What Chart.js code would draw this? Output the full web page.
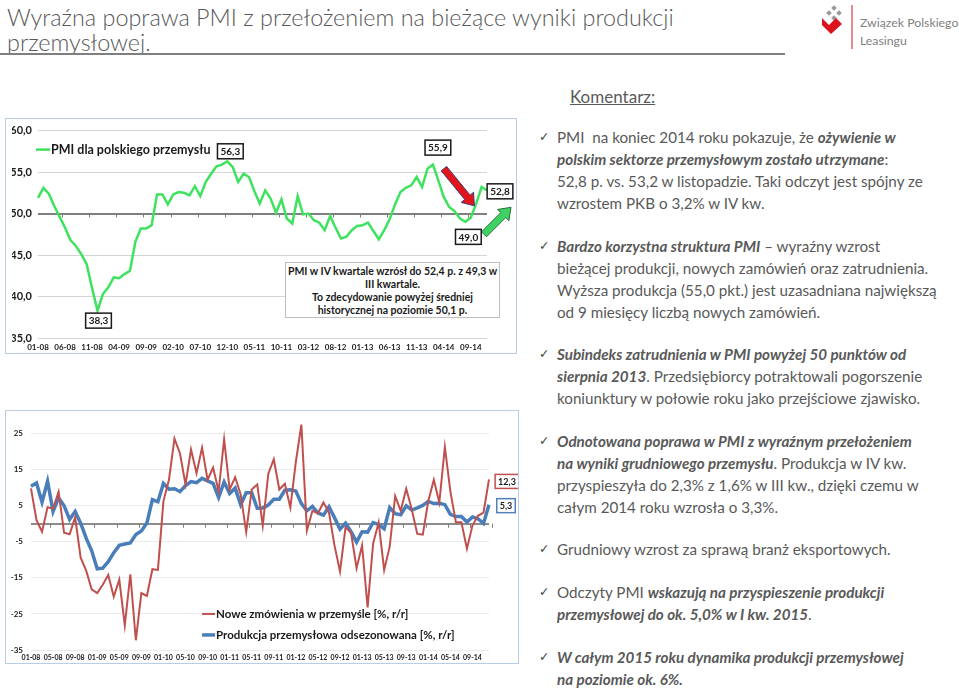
<!DOCTYPE html>
<html>
<head>
<meta charset="utf-8">
<script src="https://cdn.jsdelivr.net/npm/chart.js@4.4.1/dist/chart.umd.min.js"></script>
<style>
  body { margin:0; width:959px; height:689px; position:relative; overflow:hidden; background:#fff; font-family:Lato, "Open Sans", sans-serif; color:#595959; }
  .abs { position:absolute; white-space:nowrap; }
  .title { left:7px; font-size:23.4px; font-weight:300; color:#595959; }
  .rule { left:0; top:53px; width:785px; height:2px; background:#7f7f7f; }
  .frame { border:1.5px solid #b9cde5; box-sizing:border-box; }
  .note { left:285px; top:262px; width:215px; height:56px; border:1px solid #bfbfbf; background:#fff; box-sizing:border-box;
          font-size:10.5px; font-weight:700; color:#1a1a1a; text-align:center; line-height:13px; padding-top:2px; }
  .bullet { left:557px; font-size:15.2px; line-height:22px; color:#595959; }
  .bullet b { font-style:italic; font-weight:700; }
  .chk { position:absolute; left:-18px; top:0; font-family:"DejaVu Sans"; font-size:12.5px; color:#404040; }
</style>
</head>
<body>

<div class="abs title" style="top:3px">Wyraźna poprawa PMI z przełożeniem na bieżące wyniki produkcji</div>
<div class="abs title" style="top:28px">przemysłowej.</div>
<div class="abs rule"></div>

<svg class="abs" style="left:818px;top:4px" width="40" height="46" viewBox="0 0 40 46">
  <g fill="#9a9a9a">
    <rect x="14" y="2" width="4" height="4" transform="rotate(45 16 4)"/>
    <rect x="19" y="7" width="4" height="4" transform="rotate(45 21 9)"/>
    <rect x="9" y="7" width="4" height="4" transform="rotate(45 11 9)"/>
    <rect x="14" y="12" width="4" height="4" transform="rotate(45 16 14)"/>
  </g>
  <path d="M4 14 L11 21 L18 14 L24 20 L13 30 L4 21 Z" fill="#d9141e"/>
  <line x1="34" y1="1" x2="34" y2="45" stroke="#d9141e" stroke-width="1"/>
</svg>
<div class="abs" style="left:860px;top:14px;font-size:12.3px;color:#7f7f7f;line-height:18px">Związek Polskiego<br>Leasingu</div>

<div class="abs" style="left:570px;top:86px;font-size:17px;color:#595959;text-decoration:underline">Komentarz:</div>

<div class="abs frame" style="left:5px;top:118px;width:512px;height:236px"></div>
<canvas id="pmiChart" class="abs" style="left:6px;top:118px" width="512" height="236"></canvas>
<div class="abs note">PMI w IV kwartale wzrósł do 52,4 p. z 49,3 w<br>III kwartale.<br>To zdecydowanie powyżej średniej<br>historycznej na poziomie 50,1 p.</div>

<div class="abs frame" style="left:5px;top:410px;width:514px;height:254px"></div>
<canvas id="prodChart" class="abs" style="left:6px;top:410px" width="512" height="254"></canvas>

<div class="abs bullet" style="top:126px"><span class="chk">✓</span>PMI&nbsp; na koniec 2014 roku pokazuje, że <b>ożywienie w</b><br><b>polskim sektorze przemysłowym zostało utrzymane</b>:<br>52,8 p. vs. 53,2 w listopadzie. Taki odczyt jest spójny ze<br>wzrostem PKB o 3,2% w IV kw.</div>
<div class="abs bullet" style="top:235px"><span class="chk">✓</span><b>Bardzo korzystna struktura PMI</b> – wyraźny wzrost<br>bieżącej produkcji, nowych zamówień oraz zatrudnienia.<br>Wyższa produkcja (55,0 pkt.) jest uzasadniana największą<br>od 9 miesięcy liczbą nowych zamówień.</div>
<div class="abs bullet" style="top:343px"><span class="chk">✓</span><b>Subindeks zatrudnienia w PMI powyżej 50 punktów od</b><br><b>sierpnia 2013</b>. Przedsiębiorcy potraktowali pogorszenie<br>koniunktury w połowie roku jako przejściowe zjawisko.</div>
<div class="abs bullet" style="top:430px"><span class="chk">✓</span><b>Odnotowana poprawa w PMI z wyraźnym przełożeniem</b><br><b>na wyniki grudniowego przemysłu</b>. Produkcja w IV kw.<br>przyspieszyła do 2,3% z 1,6% w III kw., dzięki czemu w<br>całym 2014 roku wzrosła o 3,3%.</div>
<div class="abs bullet" style="top:538px"><span class="chk">✓</span>Grudniowy wzrost za sprawą branż eksportowych.</div>
<div class="abs bullet" style="top:581px"><span class="chk">✓</span>Odczyty PMI <b>wskazują na przyspieszenie produkcji</b><br><b>przemysłowej do ok. 5,0% w I kw. 2015</b>.</div>
<div class="abs bullet" style="top:646px"><span class="chk">✓</span><b>W całym 2015 roku dynamika produkcji przemysłowej</b><br><b>na poziomie ok. 6%.</b></div>

<script>
// months 01-08 .. 12-14
const years = ['08', '09', '10', '11', '12', '13', '14'];
const monthNums = ['01', '02', '03', '04', '05', '06', '07', '08', '09', '10', '11', '12'];
const months = [];
for (const y of years) {
    for (const m of monthNums) months.push(m + '-' + y);
}

const pmiLabel = 'PMI dla polskiego przemysłu';
const pmi = [
    51.9, 53.1, 52.4, 50.9, 49.6, 48.3, 46.8, 46.1, 45.1, 43.9, 41.0, 38.3,
    40.3, 41.1, 42.3, 42.2, 42.7, 43.1, 46.6, 48.2, 48.2, 48.6, 52.3, 52.3,
    51.1, 52.3, 52.6, 52.5, 52.2, 53.3, 52.1, 53.8, 54.8, 55.7, 55.9, 56.3,
    55.6, 53.8, 54.8, 54.4, 52.7, 51.2, 52.8, 51.8, 50.1, 51.7, 49.4, 48.8,
    52.1, 49.9, 50.0, 49.2, 48.9, 48.0, 49.7, 48.3, 47.0, 47.2, 48.0, 48.5,
    48.6, 48.9, 47.9, 46.9, 48.0, 49.3, 51.1, 52.6, 53.1, 53.4, 54.4, 53.2,
    55.4, 55.9, 54.0, 52.0, 50.8, 50.3, 49.4, 49.0, 49.5, 51.2, 53.2, 52.8
];
const pmiTicks = [35, 40, 45, 50, 55, 60];

const ordersLabel = 'Nowe zmówienia w przemyśle [%, r/r]';
const orders = [
    9.8, 1.0, -2.2, 4.6, 4.2, 8.9, -2.5, -2.9, 1.8, -9.4, -13.0, -18.2,
    -19.2, -16.9, -14.2, -20.2, -15.5, -28.2, -14.0, -32.3, -19.2, -20.0, -12.6, -12.8,
    6.3, 12.2, 23.6, 19.5, 10.9, 20.6, 14.0, 21.1, 12.2, 15.6, 9.0, 23.4,
    9.5, 12.9, 8.1, -2.3, 9.5, 10.9, -0.5, 13.8, 17.9, 9.5, 11.1, 4.5,
    17.2, 27.5, -1.9, 3.6, 2.9, 5.9, 3.1, -6.0, -13.2, -1.0, -2.5, -12.3,
    -6.0, -23.2, -5.5, 0.4, -12.8, -6.4, 7.7, 3.6, 9.7, 4.0, -2.8, -3.0,
    6.3, 12.2, 5.9, 21.3, 9.0, 0.4, 0.4, -6.9, -0.5, 2.2, 3.1, 12.3
];

const prodLabel = 'Produkcja przemysłowa odsezonowana [%, r/r]';
const production = [
    10.4, 11.3, 6.0, 11.8, 3.4, 7.2, 5.0, 1.2, 3.4, 0.2, -4.0, -7.5,
    -12.5, -12.3, -10.5, -8.0, -6.0, -5.6, -5.3, -3.0, -2.0, 0.2, 6.7, 6.1,
    11.2, 9.6, 9.7, 8.9, 10.6, 11.7, 11.4, 12.6, 11.9, 11.2, 7.3, 11.6,
    8.4, 9.9, 5.3, 8.6, 8.6, 4.3, 4.4, 5.2, 6.8, 6.8, 9.3, 9.4,
    9.1, 5.6, 3.6, 4.8, 3.0, 2.4, 4.7, 1.7, -1.5, 0.2, -2.2, -5.1,
    -2.2, -2.3, 0.3, -0.2, -1.4, 4.5, 2.8, 2.5, 5.0, 3.8, 4.4, 5.1,
    6.2, 5.6, 5.7, 5.3, 2.6, 2.0, 2.0, 0.5, 1.9, 1.4, 0.1, 5.3
];
// 0 is kept only for the axis line, it gets no label
const prodTicks = [-35, -25, -15, -5, 0, 5, 15, 25];

// months that get a value box in each chart
const pmiCallouts = [11, 35, 73, 79, 83];
const prodCallouts = [83];

const fmt = v => v.toFixed(1).replace('.', ',');
const tickFont = size => ({family: 'Lato', weight: 'bold', size: size});

function valueBox(ctx, text, cx, cy, border, size) {
    ctx.font = 'bold ' + size + 'px Lato';
    const w = ctx.measureText(text).width + 6;
    const h = size + 5;
    ctx.fillStyle = '#fff';
    ctx.fillRect(cx - w / 2, cy - h / 2, w, h);
    ctx.strokeStyle = border;
    ctx.lineWidth = 1.5;
    ctx.strokeRect(cx - w / 2, cy - h / 2, w, h);
    ctx.fillStyle = '#1a1a1a';
    ctx.textAlign = 'center';
    ctx.textBaseline = 'middle';
    ctx.fillText(text, cx, cy + 0.5);
}

function arrow(ctx, x1, y1, x2, y2, fill, stroke) {
    const dx = x2 - x1, dy = y2 - y1;
    const len = Math.hypot(dx, dy);
    const ux = dx / len, uy = dy / len, px = -uy, py = ux;
    const shaft = 3.5, head = 8, headLen = 11;
    const nx = x2 - ux * headLen, ny = y2 - uy * headLen;
    ctx.beginPath();
    ctx.moveTo(x1 + px * shaft, y1 + py * shaft);
    ctx.lineTo(nx + px * shaft, ny + py * shaft);
    ctx.lineTo(nx + px * head, ny + py * head);
    ctx.lineTo(x2, y2);
    ctx.lineTo(nx - px * head, ny - py * head);
    ctx.lineTo(nx - px * shaft, ny - py * shaft);
    ctx.lineTo(x1 - px * shaft, y1 - py * shaft);
    ctx.closePath();
    ctx.fillStyle = fill;
    ctx.fill();
    ctx.strokeStyle = stroke;
    ctx.lineWidth = 1;
    ctx.stroke();
}

// little tick marks hanging from the axis line, between categories
function axisTicks(chart, value, every) {
    const ctx = chart.ctx, xs = chart.scales.x, ys = chart.scales.y;
    const y = ys.getPixelForValue(value);
    ctx.strokeStyle = '#7f7f7f';
    ctx.lineWidth = 1;
    ctx.beginPath();
    for (let i = every - 0.5; i < months.length; i += every) {
        const x = Math.round(xs.getPixelForValue(i)) + 0.5;
        ctx.moveTo(x, y);
        ctx.lineTo(x, y + 4);
    }
    ctx.stroke();
}

const pmiDecor = {
    id: 'pmiDecor',
    beforeDatasetsDraw(chart) {
        chart.ctx.save();
        axisTicks(chart, 50, 5);
        chart.ctx.restore();
    },
    afterDatasetsDraw(chart) {
        const ctx = chart.ctx, xs = chart.scales.x, ys = chart.scales.y;
        const pt = i => [xs.getPixelForValue(i), ys.getPixelForValue(pmi[i])];
        const area = chart.chartArea;
        ctx.save();
        // legend
        const ds = chart.data.datasets[0];
        ctx.strokeStyle = ds.borderColor;
        ctx.lineWidth = 2.5;
        ctx.beginPath();
        ctx.moveTo(area.left - 2, area.top + 19);
        ctx.lineTo(area.left + 12, area.top + 19);
        ctx.stroke();
        ctx.fillStyle = '#1a1a1a';
        ctx.font = 'bold 12.5px Lato';
        ctx.textAlign = 'left';
        ctx.textBaseline = 'middle';
        ctx.fillText(ds.label, area.left + 13, area.top + 19);
        // arrows
        const [ax, ay] = pt(73), [bx, by] = pt(79), [cx, cy] = pt(83);
        arrow(ctx, ax + 11, ay + 4, bx + 9, by - 16, '#e4141b', '#3c3c70');
        arrow(ctx, cx - 3, cy + 44, cx + 24, cy + 17, '#3fd263', '#24703a');
        // value boxes
        const offs = {11: [1, 10], 35: [3, -10], 73: [5, -17], 79: [3, 15], 83: [13, 1]};
        for (const i of pmiCallouts) {
            const [x, y] = pt(i);
            valueBox(ctx, fmt(pmi[i]), x + offs[i][0], y + offs[i][1], '#1a1a1a', 10);
        }
        ctx.restore();
    }
};

const prodDecor = {
    id: 'prodDecor',
    beforeDatasetsDraw(chart) {
        chart.ctx.save();
        axisTicks(chart, 0, 4);
        chart.ctx.restore();
    },
    afterDatasetsDraw(chart) {
        const ctx = chart.ctx, xs = chart.scales.x, ys = chart.scales.y;
        ctx.save();
        // legend
        const lx = xs.getPixelForValue(31), ly = ys.getPixelForValue(-25);
        chart.data.datasets.forEach((ds, k) => {
            const y = ly + k * 21;
            ctx.strokeStyle = ds.borderColor;
            ctx.lineWidth = ds.borderWidth;
            ctx.beginPath();
            ctx.moveTo(lx, y);
            ctx.lineTo(lx + 13, y);
            ctx.stroke();
            ctx.fillStyle = '#1a1a1a';
            ctx.font = 'bold 11.5px Lato';
            ctx.textAlign = 'left';
            ctx.textBaseline = 'middle';
            ctx.fillText(ds.label, lx + 14, y);
        });
        for (const i of prodCallouts) {
            const x = xs.getPixelForValue(i);
            valueBox(ctx, fmt(orders[i]), x + 18, ys.getPixelForValue(orders[i]) + 2, '#c0504d', 9);
            valueBox(ctx, fmt(production[i]), x + 17, ys.getPixelForValue(production[i]) + 1, '#4f81bd', 9);
        }
        ctx.restore();
    }
};

new Chart(document.getElementById('pmiChart'), {
    type: 'line',
    data: {
        labels: months,
        datasets: [
            {
                label: pmiLabel,
                data: pmi,
                borderColor: '#3fe25e',
                borderWidth: 2.5,
                pointRadius: 0,
            }
        ]
    },
    options: {
        responsive: false,
        animation: false,
        devicePixelRatio: 1,
        layout: {padding: {left: 6, right: 31, top: 9, bottom: 0}},
        plugins: {legend: {display: false}, tooltip: {enabled: false}},
        scales: {
            x: {
                grid: {display: false, drawTicks: false},
                border: {display: false},
                afterFit: s => { s.height = 16; },
                ticks: {
                    autoSkip: false, maxRotation: 0, padding: 5,
                    font: tickFont(8), color: '#1a1a1a',
                    callback: (v, i) => i % 5 === 0 ? months[i] : ''
                }
            },
            y: {
                min: 35,
                max: 60,
                afterFit: s => { s.width = 26; },
                afterBuildTicks: s => { s.ticks = pmiTicks.map(v => ({value: v})); },
                border: {display: false},
                grid: {
                    drawTicks: false,
                    color: c => c.tick.value === 50 ? '#7f7f7f' : '#d4d4d4',
                    lineWidth: c => c.tick.value === 50 ? 2 : 1
                },
                ticks: {padding: 6, font: tickFont(11), color: '#1a1a1a', callback: v => fmt(v)}
            }
        }
    },
    plugins: [pmiDecor]
});

new Chart(document.getElementById('prodChart'), {
    type: 'line',
    data: {
        labels: months,
        datasets: [
            {
                label: ordersLabel,
                data: orders,
                borderColor: '#c0504d',
                borderWidth: 2,
                pointRadius: 0,
            },
            {
                label: prodLabel,
                data: production,
                borderColor: '#4a7ebb',
                borderWidth: 3.5,
                pointRadius: 0,
            }
        ]
    },
    options: {
        responsive: false,
        animation: false,
        devicePixelRatio: 1,
        layout: {padding: {left: 2, right: 29, top: 9, bottom: 0}},
        plugins: {legend: {display: false}, tooltip: {enabled: false}},
        scales: {
            x: {
                grid: {display: false, drawTicks: false},
                border: {display: false},
                afterFit: s => { s.height = 14; },
                ticks: {
                    autoSkip: false, maxRotation: 0, padding: 4,
                    font: tickFont(7), color: '#1a1a1a',
                    callback: (v, i) => i % 4 === 0 ? months[i] : ''
                }
            },
            y: {
                min: -35,
                max: 28,
                afterFit: s => { s.width = 23; },
                afterBuildTicks: s => { s.ticks = prodTicks.map(v => ({value: v})); },
                border: {display: false},
                grid: {
                    drawTicks: false,
                    color: c => c.tick.value === 0 ? '#8c8c8c' : '#ebebeb',
                    lineWidth: c => c.tick.value === 0 ? 2 : 1
                },
                ticks: {padding: 8, font: tickFont(8), color: '#1a1a1a', callback: v => v === 0 ? '' : String(v)}
            }
        }
    },
    plugins: [prodDecor]
});
</script>
</body>
</html>
